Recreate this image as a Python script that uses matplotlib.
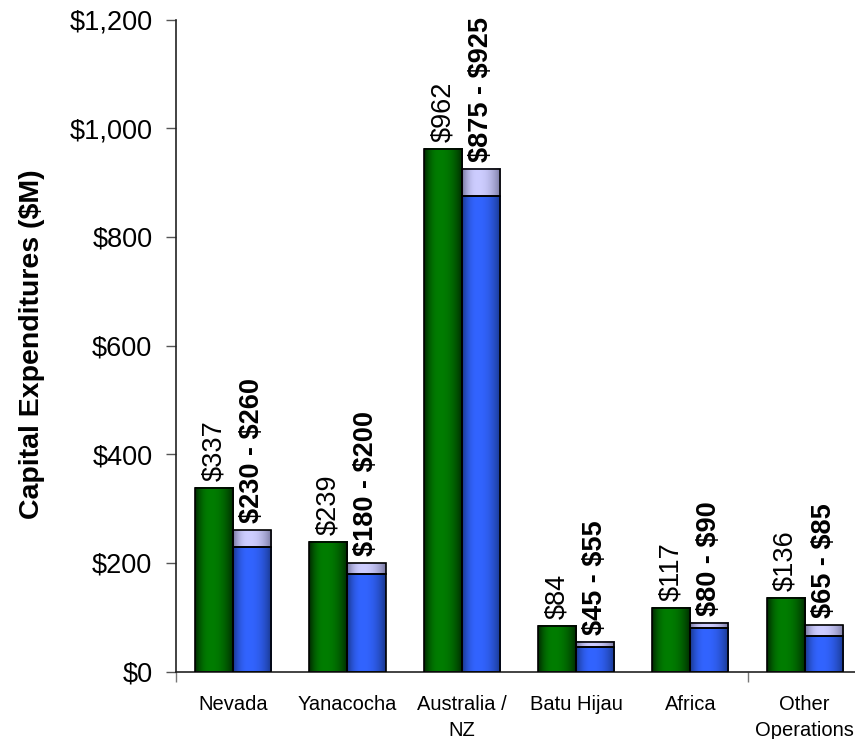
import matplotlib.pyplot as plt
import numpy as np
from matplotlib.ticker import FuncFormatter

plt.rcParams['font.family'] = ['Liberation Sans', 'DejaVu Sans']

####### donnees ###########
regions = ["Nevada", "Yanacocha", "Australia /\nNZ", "Batu Hijau", "Africa", "Other\nOperations"]
actual = [337, 239, 962, 84, 117, 136]
outlook_low = [230, 180, 875, 45, 80, 65]
outlook_high = [260, 200, 925, 55, 90, 85]

w = 0.333

# couleurs (sombre au bord, clair au milieu)
green_dark, green_light = np.array([0, 40, 0]) / 255, np.array([0, 125, 0]) / 255
blue_dark, blue_light = np.array([25, 55, 140]) / 255, np.array([50, 100, 255]) / 255
lav_dark, lav_light = np.array([120, 120, 160]) / 255, np.array([205, 205, 255]) / 255


def grad(dark, light, n=64):
    t = np.linspace(0, 1, n)
    d = np.where(t < 0.4, (0.4 - t) / 0.4, (t - 0.4) / 0.6)
    f = 1 - d ** 2.2
    img = dark[None, :] + f[:, None] * (light - dark)[None, :]
    return img[None, :, :]


def gbar(ax, x0, y0, h, dark, light):
    ax.imshow(grad(dark, light), extent=[x0, x0 + w, y0, y0 + h],
              aspect='auto', interpolation='bilinear', zorder=2)
    ax.bar(x0, h, w, bottom=y0, align='edge', facecolor='none',
           edgecolor='black', linewidth=1.2, zorder=3)


fig = plt.figure(figsize=(8.55, 7.39), dpi=100)
ax = fig.add_axes([176 / 855, 67.5 / 739, 679 / 855, 652 / 739])

x = np.arange(len(regions))
for i in range(len(regions)):
    gbar(ax, x[i] - w, 0, actual[i], green_dark, green_light)
    gbar(ax, x[i], 0, outlook_low[i], blue_dark, blue_light)
    gbar(ax, x[i], outlook_low[i], outlook_high[i] - outlook_low[i], lav_dark, lav_light)

    ax.annotate("$%d" % actual[i], (x[i] - w / 2, actual[i]), xytext=(0, 5),
                textcoords='offset points', rotation=90, ha='center', va='bottom',
                fontsize=19.5, parse_math=False)
    ax.annotate("$%d - $%d" % (outlook_low[i], outlook_high[i]),
                (x[i] + w / 2, outlook_high[i]), xytext=(0, 5),
                textcoords='offset points', rotation=90, ha='center', va='bottom',
                fontsize=19.5, fontweight='bold', parse_math=False)

ax.set_xlim(-0.5, 5.44)
ax.set_ylim(0, 1200)
ax.set_yticks(np.arange(0, 1201, 200))
ax.yaxis.set_major_formatter(FuncFormatter(lambda v, p: "${:,.0f}".format(v)))
ax.tick_params(axis='y', labelsize=19.5, length=7, width=1, color='#555555', pad=10)

ax.set_xticks(x)
ax.set_xticklabels(regions, fontsize=14.5, linespacing=1.45)
ax.tick_params(axis='x', which='major', length=0, pad=17)
ax.set_xticks([-0.5, 4.5], minor=True)
ax.tick_params(axis='x', which='minor', length=7, width=1, color='#777777')

ax.spines['top'].set_visible(False)
ax.spines['right'].set_visible(False)
for s in ['left', 'bottom']:
    ax.spines[s].set_linewidth(1.2)
    ax.spines[s].set_color('#222222')

fig.text(32 / 855, 1 - 344 / 739, "Capital Expenditures ($M)", rotation=90,
         ha='center', va='center', fontsize=20.5, fontweight='bold', parse_math=False)

plt.savefig("out.png", dpi=100)
